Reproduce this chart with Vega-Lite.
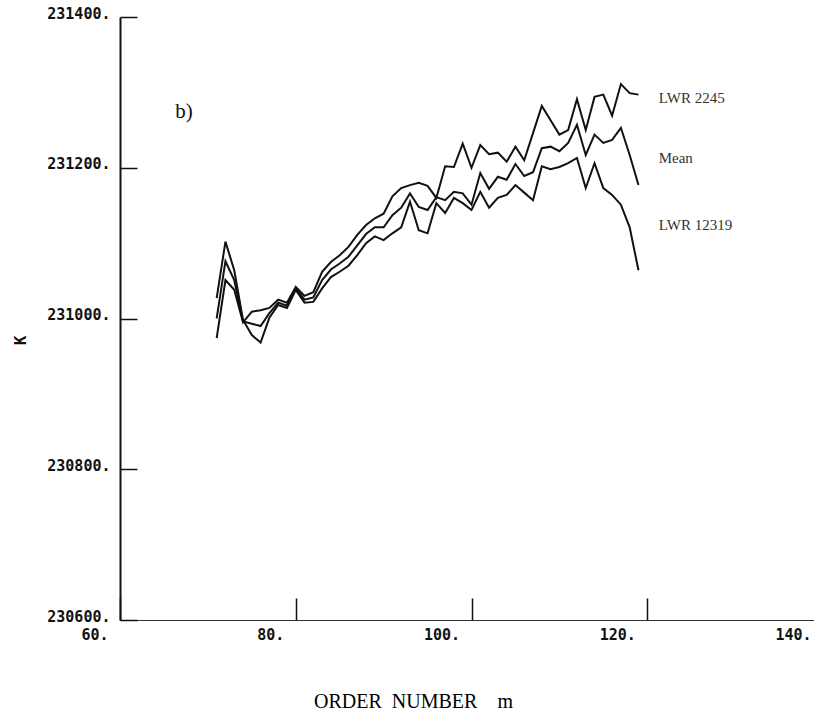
{
  "$schema": "https://vega.github.io/schema/vega-lite/v6.json",
  "width": 703,
  "height": 603,
  "autosize": {"type": "none"},
  "padding": {"left": 120, "top": 17, "right": -9, "bottom": 97},
  "background": "white",
  "config": {"view": {"stroke": null}},
  "datasets": {
    "curves": [
      {"m":71,"K":230974,"s":"LWR 2245"},{"m":72,"K":231051,"s":"LWR 2245"},{"m":73,"K":231038,"s":"LWR 2245"},{"m":74,"K":230995,"s":"LWR 2245"},{"m":75,"K":231009,"s":"LWR 2245"},{"m":76,"K":231011,"s":"LWR 2245"},{"m":77,"K":231014,"s":"LWR 2245"},{"m":78,"K":231025,"s":"LWR 2245"},{"m":79,"K":231021,"s":"LWR 2245"},{"m":80,"K":231042,"s":"LWR 2245"},{"m":81,"K":231030,"s":"LWR 2245"},{"m":82,"K":231035,"s":"LWR 2245"},{"m":83,"K":231062,"s":"LWR 2245"},{"m":84,"K":231075,"s":"LWR 2245"},{"m":85,"K":231084,"s":"LWR 2245"},{"m":86,"K":231095,"s":"LWR 2245"},{"m":87,"K":231111,"s":"LWR 2245"},{"m":88,"K":231124,"s":"LWR 2245"},{"m":89,"K":231133,"s":"LWR 2245"},{"m":90,"K":231139,"s":"LWR 2245"},{"m":91,"K":231162,"s":"LWR 2245"},{"m":92,"K":231173,"s":"LWR 2245"},{"m":93,"K":231177,"s":"LWR 2245"},{"m":94,"K":231180,"s":"LWR 2245"},{"m":95,"K":231176,"s":"LWR 2245"},{"m":96,"K":231160,"s":"LWR 2245"},{"m":97,"K":231202,"s":"LWR 2245"},{"m":98,"K":231201,"s":"LWR 2245"},{"m":99,"K":231232,"s":"LWR 2245"},{"m":100,"K":231200,"s":"LWR 2245"},{"m":101,"K":231230,"s":"LWR 2245"},{"m":102,"K":231218,"s":"LWR 2245"},{"m":103,"K":231220,"s":"LWR 2245"},{"m":104,"K":231208,"s":"LWR 2245"},{"m":105,"K":231228,"s":"LWR 2245"},{"m":106,"K":231210,"s":"LWR 2245"},{"m":107,"K":231246,"s":"LWR 2245"},{"m":108,"K":231282,"s":"LWR 2245"},{"m":109,"K":231263,"s":"LWR 2245"},{"m":110,"K":231244,"s":"LWR 2245"},{"m":111,"K":231250,"s":"LWR 2245"},{"m":112,"K":231291,"s":"LWR 2245"},{"m":113,"K":231250,"s":"LWR 2245"},{"m":114,"K":231294,"s":"LWR 2245"},{"m":115,"K":231297,"s":"LWR 2245"},{"m":116,"K":231269,"s":"LWR 2245"},{"m":117,"K":231311,"s":"LWR 2245"},{"m":118,"K":231299,"s":"LWR 2245"},{"m":119,"K":231297,"s":"LWR 2245"},
      {"m":71,"K":231000,"s":"Mean"},{"m":72,"K":231076,"s":"Mean"},{"m":73,"K":231051,"s":"Mean"},{"m":74,"K":230996,"s":"Mean"},{"m":75,"K":230993,"s":"Mean"},{"m":76,"K":230990,"s":"Mean"},{"m":77,"K":231007,"s":"Mean"},{"m":78,"K":231021,"s":"Mean"},{"m":79,"K":231017,"s":"Mean"},{"m":80,"K":231040,"s":"Mean"},{"m":81,"K":231025,"s":"Mean"},{"m":82,"K":231028,"s":"Mean"},{"m":83,"K":231051,"s":"Mean"},{"m":84,"K":231065,"s":"Mean"},{"m":85,"K":231073,"s":"Mean"},{"m":86,"K":231082,"s":"Mean"},{"m":87,"K":231097,"s":"Mean"},{"m":88,"K":231112,"s":"Mean"},{"m":89,"K":231121,"s":"Mean"},{"m":90,"K":231121,"s":"Mean"},{"m":91,"K":231137,"s":"Mean"},{"m":92,"K":231147,"s":"Mean"},{"m":93,"K":231166,"s":"Mean"},{"m":94,"K":231148,"s":"Mean"},{"m":95,"K":231144,"s":"Mean"},{"m":96,"K":231161,"s":"Mean"},{"m":97,"K":231157,"s":"Mean"},{"m":98,"K":231168,"s":"Mean"},{"m":99,"K":231166,"s":"Mean"},{"m":100,"K":231151,"s":"Mean"},{"m":101,"K":231193,"s":"Mean"},{"m":102,"K":231172,"s":"Mean"},{"m":103,"K":231188,"s":"Mean"},{"m":104,"K":231184,"s":"Mean"},{"m":105,"K":231205,"s":"Mean"},{"m":106,"K":231189,"s":"Mean"},{"m":107,"K":231194,"s":"Mean"},{"m":108,"K":231226,"s":"Mean"},{"m":109,"K":231228,"s":"Mean"},{"m":110,"K":231222,"s":"Mean"},{"m":111,"K":231233,"s":"Mean"},{"m":112,"K":231257,"s":"Mean"},{"m":113,"K":231217,"s":"Mean"},{"m":114,"K":231244,"s":"Mean"},{"m":115,"K":231233,"s":"Mean"},{"m":116,"K":231237,"s":"Mean"},{"m":117,"K":231253,"s":"Mean"},{"m":118,"K":231217,"s":"Mean"},{"m":119,"K":231177,"s":"Mean"},
      {"m":71,"K":231027,"s":"LWR 12319"},{"m":72,"K":231102,"s":"LWR 12319"},{"m":73,"K":231064,"s":"LWR 12319"},{"m":74,"K":230998,"s":"LWR 12319"},{"m":75,"K":230978,"s":"LWR 12319"},{"m":76,"K":230968,"s":"LWR 12319"},{"m":77,"K":231001,"s":"LWR 12319"},{"m":78,"K":231018,"s":"LWR 12319"},{"m":79,"K":231014,"s":"LWR 12319"},{"m":80,"K":231038,"s":"LWR 12319"},{"m":81,"K":231021,"s":"LWR 12319"},{"m":82,"K":231022,"s":"LWR 12319"},{"m":83,"K":231040,"s":"LWR 12319"},{"m":84,"K":231055,"s":"LWR 12319"},{"m":85,"K":231062,"s":"LWR 12319"},{"m":86,"K":231070,"s":"LWR 12319"},{"m":87,"K":231084,"s":"LWR 12319"},{"m":88,"K":231100,"s":"LWR 12319"},{"m":89,"K":231109,"s":"LWR 12319"},{"m":90,"K":231104,"s":"LWR 12319"},{"m":91,"K":231113,"s":"LWR 12319"},{"m":92,"K":231121,"s":"LWR 12319"},{"m":93,"K":231155,"s":"LWR 12319"},{"m":94,"K":231117,"s":"LWR 12319"},{"m":95,"K":231113,"s":"LWR 12319"},{"m":96,"K":231153,"s":"LWR 12319"},{"m":97,"K":231140,"s":"LWR 12319"},{"m":98,"K":231160,"s":"LWR 12319"},{"m":99,"K":231153,"s":"LWR 12319"},{"m":100,"K":231144,"s":"LWR 12319"},{"m":101,"K":231168,"s":"LWR 12319"},{"m":102,"K":231147,"s":"LWR 12319"},{"m":103,"K":231160,"s":"LWR 12319"},{"m":104,"K":231164,"s":"LWR 12319"},{"m":105,"K":231177,"s":"LWR 12319"},{"m":106,"K":231167,"s":"LWR 12319"},{"m":107,"K":231157,"s":"LWR 12319"},{"m":108,"K":231202,"s":"LWR 12319"},{"m":109,"K":231198,"s":"LWR 12319"},{"m":110,"K":231201,"s":"LWR 12319"},{"m":111,"K":231206,"s":"LWR 12319"},{"m":112,"K":231213,"s":"LWR 12319"},{"m":113,"K":231173,"s":"LWR 12319"},{"m":114,"K":231206,"s":"LWR 12319"},{"m":115,"K":231173,"s":"LWR 12319"},{"m":116,"K":231164,"s":"LWR 12319"},{"m":117,"K":231151,"s":"LWR 12319"},{"m":118,"K":231121,"s":"LWR 12319"},{"m":119,"K":231064,"s":"LWR 12319"}
    ],
    "seriesLabels": [
      {"m": 121.3, "K": 231293, "label": "LWR  2245"},
      {"m": 121.3, "K": 231213, "label": "Mean"},
      {"m": 121.3, "K": 231124, "label": "LWR  12319"}
    ],
    "panel": [
      {"m": 66.3, "K": 231274, "label": "b)"}
    ]
  },
  "encoding": {
    "x": {
      "field": "m",
      "type": "quantitative",
      "scale": {"domain": [60, 140], "nice": false, "zero": false},
      "axis": {
        "values": [60, 80, 100, 120, 140],
        "labelExpr": "datum.value + '.'",
        "grid": false,
        "domainColor": "#333",
        "domainWidth": 1.2,
        "tickSize": -22,
        "tickColor": "#111",
        "tickWidth": 1.5,
        "labelFont": "DejaVu Sans Mono",
        "labelFontWeight": "bold",
        "labelFontSize": 15,
        "labelColor": "#111",
        "labelAlign": "right",
        "labelBaseline": "top",
        "labelOffset": -12,
        "labelPadding": 29,
        "labelFlush": false,
        "labelOverlap": false,
        "labelBound": false,
        "title": "ORDER\u00a0\u00a0NUMBER\u00a0\u00a0\u00a0\u00a0m",
        "titleFont": "Liberation Serif",
        "titleFontSize": 20,
        "titleFontWeight": "normal",
        "titleColor": "#000",
        "titleAlign": "center",
        "titleBaseline": "alphabetic",
        "titleX": 293,
        "titleY": 87
      }
    },
    "y": {
      "field": "K",
      "type": "quantitative",
      "scale": {"domain": [230600, 231400], "nice": false, "zero": false},
      "axis": {
        "values": [230600, 230800, 231000, 231200, 231400],
        "labelExpr": "datum.value + '.'",
        "grid": false,
        "domainColor": "#111",
        "domainWidth": 2,
        "tickSize": -17,
        "tickColor": "#111",
        "tickWidth": 1.5,
        "labelFont": "DejaVu Sans Mono",
        "labelFontWeight": "bold",
        "labelFontSize": 15,
        "labelColor": "#111",
        "labelPadding": 27,
        "labelOffset": -4,
        "labelFlush": false,
        "labelOverlap": false,
        "labelBound": false,
        "title": "K",
        "titleFont": "DejaVu Sans Mono",
        "titleFontWeight": "bold",
        "titleFontSize": 16,
        "titleColor": "#111",
        "titleAlign": "center",
        "titleBaseline": "middle",
        "titleX": -100,
        "titleY": 323
      }
    }
  },
  "layer": [
    {
      "data": {"name": "curves"},
      "mark": {"type": "line", "color": "#111", "strokeWidth": 2, "clip": true},
      "encoding": {"detail": {"field": "s", "type": "nominal"}}
    },
    {
      "data": {"name": "seriesLabels"},
      "mark": {"type": "text", "align": "left", "baseline": "middle", "font": "Liberation Serif", "fontSize": 15, "color": "#333"},
      "encoding": {"text": {"field": "label", "type": "nominal"}}
    },
    {
      "data": {"name": "panel"},
      "mark": {"type": "text", "align": "left", "baseline": "middle", "font": "Liberation Serif", "fontSize": 21, "color": "#111"},
      "encoding": {"text": {"field": "label", "type": "nominal"}}
    }
  ]
}
